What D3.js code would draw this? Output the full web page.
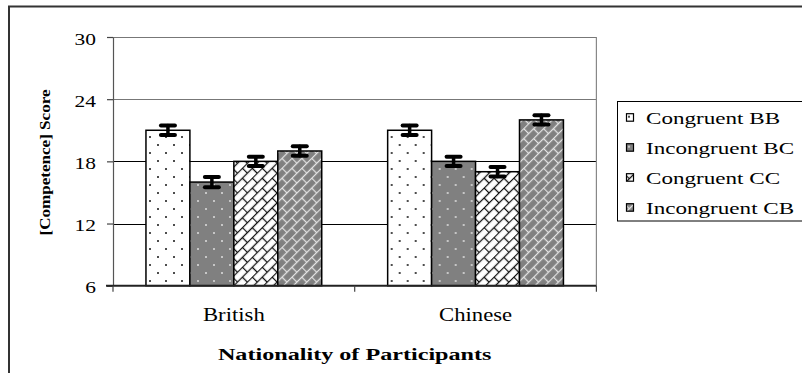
<!DOCTYPE html>
<html>
<head>
<meta charset="utf-8">
<script src="https://cdn.jsdelivr.net/npm/d3@7"></script>
<style>
  html, body { margin: 0; padding: 0; background: #fff; }
  svg { display: block; }
  text { font-family: "Liberation Serif", "Times New Roman", serif; fill: #000; }
</style>
</head>
<body>
<svg id="chart" width="802" height="373"></svg>
<script>
// Nationality groups on the x axis
const categories = ["British", "Chinese"];
// Experimental conditions (one bar per condition in each group)
const seriesNames = ["Congruent BB", "Incongruent BC", "Congruent CC", "Incongruent CB"];
// Mean competence score per condition, British then Chinese
const congruentBB   = [21, 21];
const incongruentBC = [16, 18];
const congruentCC   = [18, 17];
const incongruentCB = [19, 22];
// Standard error for each mean
const errBB = [0.45, 0.45];
const errBC = [0.5, 0.45];
const errCC = [0.45, 0.45];
const errCB = [0.45, 0.45];
// Y axis ticks
const yTicks = [6, 12, 18, 24, 30];

const seriesValues = [congruentBB, incongruentBC, congruentCC, incongruentCB];
const seriesErrors = [errBB, errBC, errCC, errCB];
const seriesFills = ["url(#dotsWhite)", "url(#dotsGray)", "url(#brickWhite)", "url(#brickGray)"];

const svg = d3.select("#chart");

// ---- fill patterns ----
const defs = svg.append("defs");

function dotPattern(id, bg, dot) {
  const p = defs.append("pattern").attr("id", id)
    .attr("patternUnits", "userSpaceOnUse")
    .attr("x", 149).attr("y", 137).attr("width", 16).attr("height", 16);
  p.append("rect").attr("width", 16).attr("height", 16).attr("fill", bg);
  [[0, 0], [16, 0], [0, 16], [16, 16], [8, 8]].forEach(([cx, cy]) => {
    p.append("rect").attr("x", cx - 0.9).attr("y", cy - 0.9)
      .attr("width", 1.8).attr("height", 1.8).attr("fill", dot);
  });
}
dotPattern("dotsWhite", "#ffffff", "#222");
dotPattern("dotsGray", "#808080", "#d8d8d8");

function brickPattern(id, bg, line) {
  const h = 7;
  const p = defs.append("pattern").attr("id", id)
    .attr("patternUnits", "userSpaceOnUse")
    .attr("width", 2 * h).attr("height", 2 * h)
    .attr("patternTransform", "rotate(-45)");
  p.append("rect").attr("width", 2 * h).attr("height", 2 * h).attr("fill", bg);
  const g = p.append("g").attr("stroke", line).attr("stroke-width", 1.3).attr("fill", "none");
  g.append("line").attr("x1", 0).attr("y1", 0.5).attr("x2", 2 * h).attr("y2", 0.5);
  g.append("line").attr("x1", 0).attr("y1", h + 0.5).attr("x2", 2 * h).attr("y2", h + 0.5);
  g.append("line").attr("x1", 0.5).attr("y1", 0).attr("x2", 0.5).attr("y2", h);
  g.append("line").attr("x1", h + 0.5).attr("y1", h).attr("x2", h + 0.5).attr("y2", 2 * h);
}
brickPattern("brickWhite", "#ffffff", "#111");
brickPattern("brickGray", "#808080", "#e4e4e4");

// ---- outer chart frame (extends past the right and bottom edges) ----
svg.append("rect")
  .attr("x", 9).attr("y", 6.5).attr("width", 900).attr("height", 500)
  .attr("fill", "none").attr("stroke", "#333").attr("stroke-width", 2);

// ---- scales ----
const plotLeft = 113, plotRight = 596.4, plotTop = 37, plotBottom = 285.7;

const x0 = d3.scaleBand().domain(categories).range([plotLeft, plotRight]).padding(0);
const x1 = d3.scaleBand().domain(seriesNames).range([0, x0.bandwidth()])
  .paddingInner(0).paddingOuter(0.75);
const y = d3.scaleLinear().domain([6, 30]).range([plotBottom, plotTop]);

// ---- gridlines ----
const gridColors = { 12: "#000", 18: "#000", 24: "#777", 30: "#777" };
svg.append("g").selectAll("line")
  .data(yTicks.filter(t => t > 6))
  .join("line")
  .attr("x1", plotLeft).attr("x2", plotRight)
  .attr("y1", d => Math.round(y(d)) + 0.5).attr("y2", d => Math.round(y(d)) + 0.5)
  .attr("stroke", d => gridColors[d]).attr("stroke-width", 1);

// right edge of plot area
svg.append("line")
  .attr("x1", plotRight).attr("x2", plotRight)
  .attr("y1", y(30)).attr("y2", y(6))
  .attr("stroke", "#888").attr("stroke-width", 1.2);

// ---- bars ----
const groups = svg.append("g").selectAll("g")
  .data(categories)
  .join("g")
  .attr("transform", d => `translate(${x0(d)},0)`);

groups.selectAll("rect")
  .data((c, ci) => seriesNames.map((s, si) => ({ s, si, v: seriesValues[si][ci] })))
  .join("rect")
  .attr("x", d => x1(d.s))
  .attr("width", x1.bandwidth())
  .attr("y", d => y(d.v))
  .attr("height", d => y(6) - y(d.v))
  .attr("fill", d => seriesFills[d.si])
  .attr("stroke", "#000").attr("stroke-width", 1.5);

// ---- error bars ----
const errG = groups.selectAll("g.err")
  .data((c, ci) => seriesNames.map((s, si) => ({
    s, v: seriesValues[si][ci], e: seriesErrors[si][ci]
  })))
  .join("g").attr("class", "err")
  .attr("transform", d => `translate(${x1(d.s) + x1.bandwidth() / 2},0)`)
  .attr("stroke", "#000").attr("stroke-linecap", "round");

errG.append("line")
  .attr("x1", 0).attr("x2", 0)
  .attr("y1", d => y(d.v + d.e)).attr("y2", d => y(d.v - d.e))
  .attr("stroke-width", 3.5);
errG.append("line")
  .attr("x1", -7).attr("x2", 7)
  .attr("y1", d => y(d.v + d.e)).attr("y2", d => y(d.v + d.e))
  .attr("stroke-width", 4);
errG.append("line")
  .attr("x1", -7).attr("x2", 7)
  .attr("y1", d => y(d.v - d.e)).attr("y2", d => y(d.v - d.e))
  .attr("stroke-width", 4);

// ---- y axis ----
const yAxis = svg.append("g")
  .attr("transform", `translate(${plotLeft},0)`)
  .call(d3.axisLeft(y).tickValues(yTicks).tickSize(6).tickSizeOuter(0).tickFormat(d3.format("d")));
yAxis.select(".domain").attr("stroke", "#555").attr("stroke-width", 1.2);
yAxis.selectAll(".tick line").attr("stroke", "#444").attr("stroke-width", 1.2);
yAxis.selectAll(".tick text")
  .attr("x", null).attr("dy", null)
  .attr("transform", "translate(-17,7) scale(1.3,1)")
  .style("font-size", "16.5px")
  .style("font-family", '"Liberation Serif", "Times New Roman", serif')
  .attr("fill", "#000");

// ---- x axis ----
svg.append("line")
  .attr("x1", plotLeft - 7).attr("x2", plotRight)
  .attr("y1", plotBottom).attr("y2", plotBottom)
  .attr("stroke", "#222").attr("stroke-width", 2);
const boundaries = [plotLeft, x0(categories[1]), plotRight];
svg.append("g").selectAll("line")
  .data(boundaries)
  .join("line")
  .attr("x1", d => d).attr("x2", d => d)
  .attr("y1", plotBottom).attr("y2", plotBottom + 6)
  .attr("stroke", "#444").attr("stroke-width", 1.2);

svg.append("g").selectAll("text")
  .data(categories)
  .join("text")
  .attr("transform", d => `translate(${x0(d) + x0.bandwidth() / 2},320.5) scale(1.26,1)`)
  .attr("text-anchor", "middle")
  .style("font-size", "18px")
  .text(d => d);

// axis titles
svg.append("text")
  .attr("transform", `translate(${(plotLeft + plotRight) / 2},360) scale(1.38,1)`)
  .attr("text-anchor", "middle")
  .style("font-size", "17.5px").style("font-weight", "bold")
  .text("Nationality of Participants");

svg.append("text")
  .attr("transform", "translate(50,162.5) rotate(-90)")
  .attr("text-anchor", "middle")
  .attr("textLength", 146).attr("lengthAdjust", "spacingAndGlyphs")
  .style("font-size", "14.5px").style("font-weight", "bold")
  .text("[Competence] Score");

// ---- legend ----
const legend = svg.append("g");
legend.append("rect")
  .attr("x", 617.5).attr("y", 101.5).attr("width", 300).attr("height", 119.5)
  .attr("fill", "#fff").attr("stroke", "#000").attr("stroke-width", 1);

const items = legend.selectAll("g.item")
  .data(seriesNames)
  .join("g").attr("class", "item")
  .attr("transform", (d, i) => `translate(0,${123.7 + i * 30})`);

items.append("rect")
  .attr("x", 626.5).attr("y", -10).attr("width", 7).attr("height", 7.5)
  .attr("fill", (d, i) => seriesFills[i])
  .attr("stroke", "#000").attr("stroke-width", 1.2);

items.append("text")
  .attr("transform", "translate(646,0) scale(1.4,1)")
  .style("font-size", "16.5px")
  .text(d => d);
</script>
</body>
</html>
